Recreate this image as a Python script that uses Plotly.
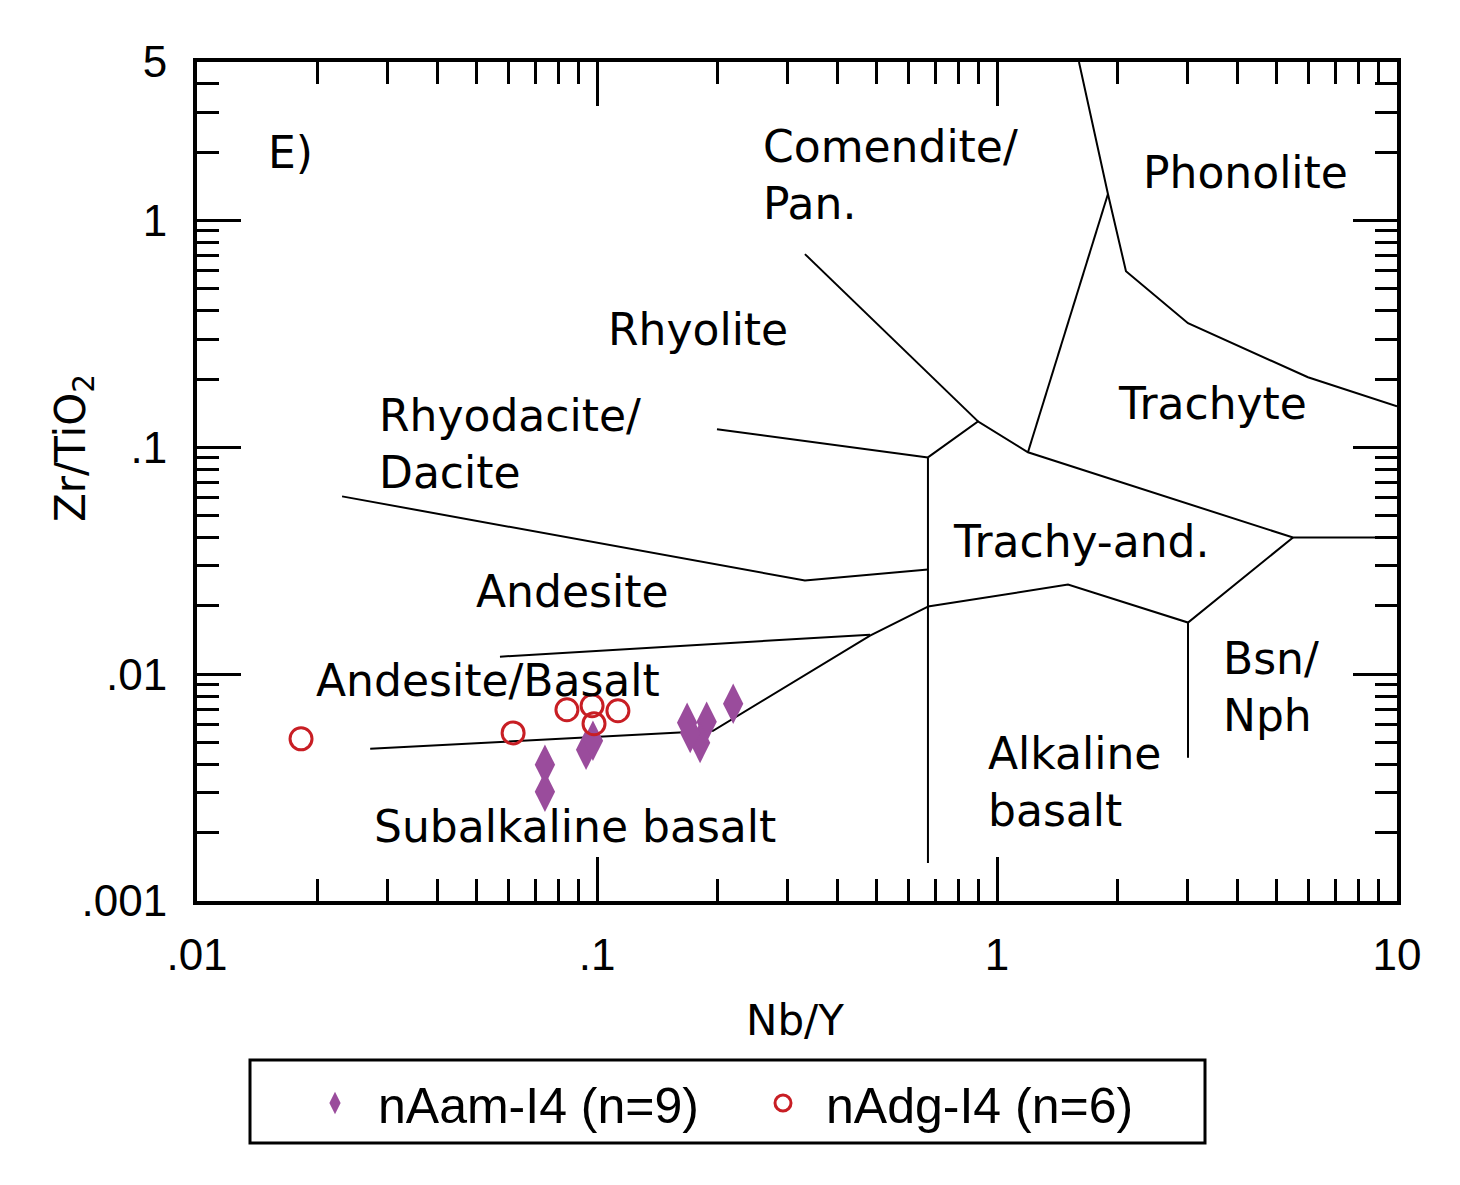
import numpy as np
import plotly.graph_objects as go

# samples
nam_nby = [0.0741, 0.0741, 0.0939, 0.0977, 0.168, 0.188, 0.181, 0.171, 0.219]
nam_zr = [0.00399, 0.00303, 0.00464, 0.00509, 0.00611, 0.00617, 0.00498, 0.00551, 0.00741]
ndg_nby = [0.0182, 0.0617, 0.0841, 0.0972, 0.1128, 0.0983]
ndg_zr = [0.00519, 0.00551, 0.00697, 0.00726, 0.00690, 0.00605]

# field boundaries (Nb/Y, Zr/TiO2)
bounds = [
    ([0.0271, 0.195, 0.4815, 0.672], [0.00469, 0.00563, 0.01479, 0.01986]),
    ([0.0572, 0.4815], [0.01195, 0.01494]),
    ([0.02305, 0.331, 0.672], [0.0608, 0.02587, 0.02893]),
    ([0.1995, 0.672], [0.1201, 0.0903]),
    ([0.331, 0.8964], [0.711, 0.1302]),
    ([0.672, 0.672], [0.0903, 0.00147]),
    ([0.672, 0.8964, 1.195, 5.495, 10], [0.0903, 0.1302, 0.0951, 0.04005, 0.04005]),
    ([0.672, 1.505, 3.003, 5.495], [0.01986, 0.02484, 0.01689, 0.04005]),
    ([3.003, 3.003], [0.01689, 0.00428]),
    ([1.195, 1.894], [0.0951, 1.309]),
    ([1.603, 1.894, 2.101, 3.003, 5.99, 10], [5, 1.309, 0.598, 0.3528, 0.2037, 0.1517]),
]

x_ticks = [0.01, 0.1, 1, 10]
x_labels = [".01", ".1", "1", "10"]
y_ticks = [0.001, 0.01, 0.1, 1, 5]
y_labels = [".001", ".01", ".1", "1", "5"]

# page body adds 8px, so the figure is a bit smaller than the window
W, H = 1452, 1177
# plot box as seen in the window
L, R, T, B = 197, 1397, 62, 901
OFF = 8

fig = go.Figure()
for bx, by in bounds:
    fig.add_trace(go.Scatter(x=bx, y=by, mode="lines", line=dict(color="black", width=2),
                             showlegend=False, hoverinfo="skip"))

fig.add_trace(go.Scatter(
    x=nam_nby, y=nam_zr, mode="markers", name="nAam-I4 (n=9)",
    marker=dict(symbol="diamond-tall", size=29, color="#9A4C9C"),
))
fig.add_trace(go.Scatter(
    x=ndg_nby, y=ndg_zr, mode="markers", name="nAdg-I4 (n=6)",
    marker=dict(symbol="circle-open", size=22, color="#C81E24", line=dict(width=3)),
))


def px_x(px):
    return (px - L) / (R - L)


def px_y(py):
    return (B - py) / (B - T)


lab_font = dict(family="DejaVu Sans", size=44, color="black")
# (text, left px, centre px)
labels = [
    ("E)", 270, 152),
    ("Comendite/<br>Pan.", 765, 175),
    ("Phonolite", 1145, 172),
    ("Rhyolite", 610, 329),
    ("Rhyodacite/<br>Dacite", 381, 444),
    ("Trachyte", 1120, 403),
    ("Trachy-and.", 955, 541),
    ("Andesite", 478, 591),
    ("Andesite/Basalt", 318, 680),
    ("Bsn/<br>Nph", 1225, 687),
    ("Alkaline<br>basalt", 990, 782),
    ("Subalkaline basalt", 376, 826),
]
for txt, px, py in labels:
    fig.add_annotation(text=txt, x=px_x(px - 4), y=px_y(py),
                       xref="paper", yref="paper", xanchor="left", yanchor="middle",
                       align="left", showarrow=False, font=lab_font)

# axis titles
title_font = dict(family="DejaVu Sans", size=42, color="black")
fig.add_annotation(text="Nb/Y", x=px_x(795), y=px_y(1020), xref="paper", yref="paper",
                   xanchor="center", yanchor="middle", showarrow=False, font=title_font)
fig.add_annotation(text="Zr/TiO<sub>2</sub>", x=px_x(73), y=px_y(448), xref="paper", yref="paper",
                   xanchor="center", yanchor="middle", textangle=-90, showarrow=False,
                   font=title_font)

tick_font = dict(family="Liberation Sans, Arial", size=44, color="black")
axis_common = dict(
    type="log", ticks="inside", ticklen=44, tickwidth=3, tickcolor="black",
    showline=True, linewidth=4, linecolor="black", mirror="ticks",
    showgrid=False, zeroline=False, tickfont=tick_font, automargin=False,
)
minor_x = [m * 10.0 ** e for e in range(-2, 1) for m in range(2, 10)]
minor_y = [m * 10.0 ** e for e in range(-3, 1) for m in range(2, 10) if m * 10.0 ** e < 5]

fig.update_xaxes(
    **axis_common, range=[-2, 1], tickmode="array", tickvals=x_ticks, ticktext=x_labels,
    ticklabelstandoff=12,
    minor=dict(tickmode="array", tickvals=minor_x, ticks="inside", ticklen=22,
               tickwidth=3, tickcolor="black", showgrid=False),
)
fig.update_yaxes(
    **axis_common, range=[-3, np.log10(5)], tickmode="array", tickvals=y_ticks, ticktext=y_labels,
    ticklabelstandoff=17,
    minor=dict(tickmode="array", tickvals=minor_y, ticks="inside", ticklen=22,
               tickwidth=3, tickcolor="black", showgrid=False),
)

# legend frame
fig.add_shape(type="rect", xref="paper", yref="paper",
              x0=px_x(250), x1=px_x(1205), y0=px_y(1143), y1=px_y(1060),
              line=dict(color="black", width=3), fillcolor="rgba(0,0,0,0)")

fig.update_layout(
    width=W, height=H,
    margin=dict(l=L - OFF, r=W - (R - OFF), t=T - OFF, b=H - (B - OFF)),
    paper_bgcolor="white", plot_bgcolor="white",
    legend=dict(
        orientation="h", x=px_x(292), xanchor="left",
        y=px_y(1064), yanchor="top",
        borderwidth=0, bgcolor="rgba(0,0,0,0)",
        font=dict(family="Liberation Sans, Arial", size=50, color="black"),
        itemwidth=76, entrywidth=357,
    ),
)

fig.write_html("out.html")
